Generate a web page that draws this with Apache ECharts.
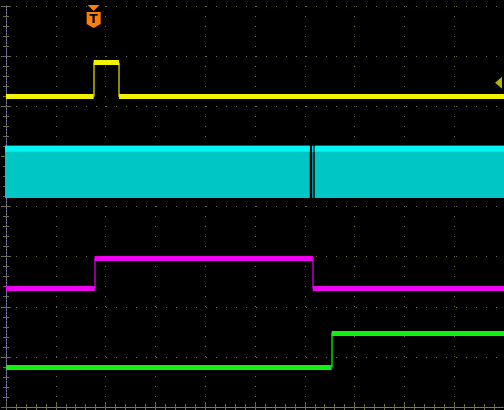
<!DOCTYPE html>
<html>
<head>
<meta charset="utf-8">
<script src="https://cdn.jsdelivr.net/npm/echarts@6/dist/echarts.min.js"></script>
<style>
  html, body { margin: 0; padding: 0; background: #000; }
  #chart { width: 504px; height: 410px; }
</style>
</head>
<body>
<div id="chart"></div>
<script>
// screen is 10 x 8 divisions, values below are in divisions
const xDivs = [0, 10];
const yDivs = [0, 8];

// [xStart, xEnd, level]
const yellowLevels = [[0, 1.76, 6.19], [1.76, 2.27, 6.87], [2.27, 10, 6.19]];
const yellowEdges = [[1.76, 6.19, 6.87], [2.27, 6.87, 6.19]];
const magentaLevels = [[0, 1.78, 2.36], [1.78, 6.16, 2.97], [6.16, 10, 2.36]];
const magentaEdges = [[1.78, 2.36, 2.97], [6.16, 2.97, 2.36]];
const greenLevels = [[0, 6.54, 0.80], [6.54, 10, 1.48]];
const greenEdges = [[6.54, 0.80, 1.48]];
// cyan burst: [xStart, xEnd, bottom, top]
const cyanBlocks = [[-0.02, 6.1, 4.17, 5.21], [6.15, 6.17, 4.17, 5.21], [6.2, 10, 4.17, 5.21]];
const cyanRim = 0.12;

const triggerX = 1.76;
const yellowRef = 6.47;

const gridColor = '#6c6c4c';

let myChart = echarts.init(document.getElementById('chart'));

function levelLines(levels) {
    return levels.map(l => ({coords: [[l[0], l[2]], [l[1], l[2]]]}));
}
function edgeLines(edges) {
    return edges.map(e => ({coords: [[e[0], e[1]], [e[0], e[2]]]}));
}

function axisBase(pos, range, isX) {
    return {
        type: 'value',
        position: pos,
        min: range[0],
        max: range[1],
        interval: 1,
        axisLabel: {show: false},
        axisLine: {show: true, lineStyle: {color: pos === 'bottom' ? '#8c8c8c' : '#7a7aa8', type: [2, 1], width: 1}},
        axisTick: {show: true, inside: true, length: 5, lineStyle: {color: gridColor}},
        minorTick: {show: true, splitNumber: 5, length: 3, lineStyle: {color: gridColor}},
        splitLine: {show: false},
    };
}

let xBottom = axisBase('bottom', xDivs, true);
xBottom.splitLine = {show: true, lineStyle: {color: gridColor, type: [1, 9], width: 1}};
let xTop = axisBase('top', xDivs, true);
let yLeft = axisBase('left', yDivs, false);
yLeft.splitLine = {show: true, lineStyle: {color: gridColor, type: [1, 9], width: 1}};
let yRight = axisBase('right', yDivs, false);
yRight.axisLine.show = false;

function trace(levels, edges, color, edgeColor) {
    return [
        {
            type: 'lines', coordinateSystem: 'cartesian2d', polyline: false, silent: true,
            data: edgeLines(edges),
            lineStyle: {color: edgeColor, width: 2, opacity: 1},
        },
        {
            type: 'lines', coordinateSystem: 'cartesian2d', polyline: false, silent: true,
            data: levelLines(levels),
            lineStyle: {color: color, width: 5, opacity: 1},
        },
    ];
}

let option = {
    backgroundColor: '#000',
    animation: false,
    grid: {left: 6, top: 6, width: 500, height: 401, show: false},
    xAxis: [xBottom, xTop],
    yAxis: [yLeft, yRight],
    series: [
        {
            type: 'custom',
            silent: true,
            data: cyanBlocks,
            encode: {x: [0, 1], y: [2, 3]},
            renderItem: (params, api) => {
                let p0 = api.coord([api.value(0), api.value(3)]);
                let p1 = api.coord([api.value(1), api.value(2)]);
                let rim = api.coord([api.value(0), api.value(3) - cyanRim]);
                return {
                    type: 'group',
                    children: [
                        {type: 'rect', shape: {x: p0[0], y: p0[1], width: p1[0] - p0[0], height: p1[1] - p0[1]},
                            style: {fill: '#00c6c6'}},
                        {type: 'rect', shape: {x: p0[0], y: p0[1], width: p1[0] - p0[0], height: rim[1] - p0[1]},
                            style: {fill: '#00f4f4'}},
                    ]
                };
            }
        },
        ...trace(yellowLevels, yellowEdges, '#f2f200', '#8c8c00'),
        ...trace(magentaLevels, magentaEdges, '#f000f0', '#8c008c'),
        ...trace(greenLevels, greenEdges, '#12f012', '#00a000'),
    ]
};

myChart.setOption(option);

// trigger and level markers
let tp = myChart.convertToPixel({gridIndex: 0}, [triggerX, yDivs[1]]);
let lp = myChart.convertToPixel({gridIndex: 0}, [xDivs[1], yellowRef]);
myChart.setOption({
    graphic: [
        {type: 'polygon', shape: {points: [[tp[0] - 6, 5], [tp[0] + 6, 5], [tp[0], 11]]}, style: {fill: '#ff7f00'}, z: 100},
        {type: 'polygon', shape: {points: [[tp[0] - 7, 12], [tp[0] + 7, 12], [tp[0] + 7, 24], [tp[0], 28], [tp[0] - 7, 24]]},
            style: {fill: '#ff7f00'}, z: 100},
        {type: 'text', x: tp[0], y: 20, z: 101,
            style: {text: 'T', fill: '#000', font: 'bold 12px "DejaVu Sans"', align: 'center', verticalAlign: 'middle'}},
        {type: 'polygon', shape: {points: [[lp[0] - 9, lp[1]], [lp[0] - 2, lp[1] - 6], [lp[0] - 2, lp[1] + 6]]},
            style: {fill: '#b4b400'}, z: 100},
    ]
});
</script>
</body>
</html>
